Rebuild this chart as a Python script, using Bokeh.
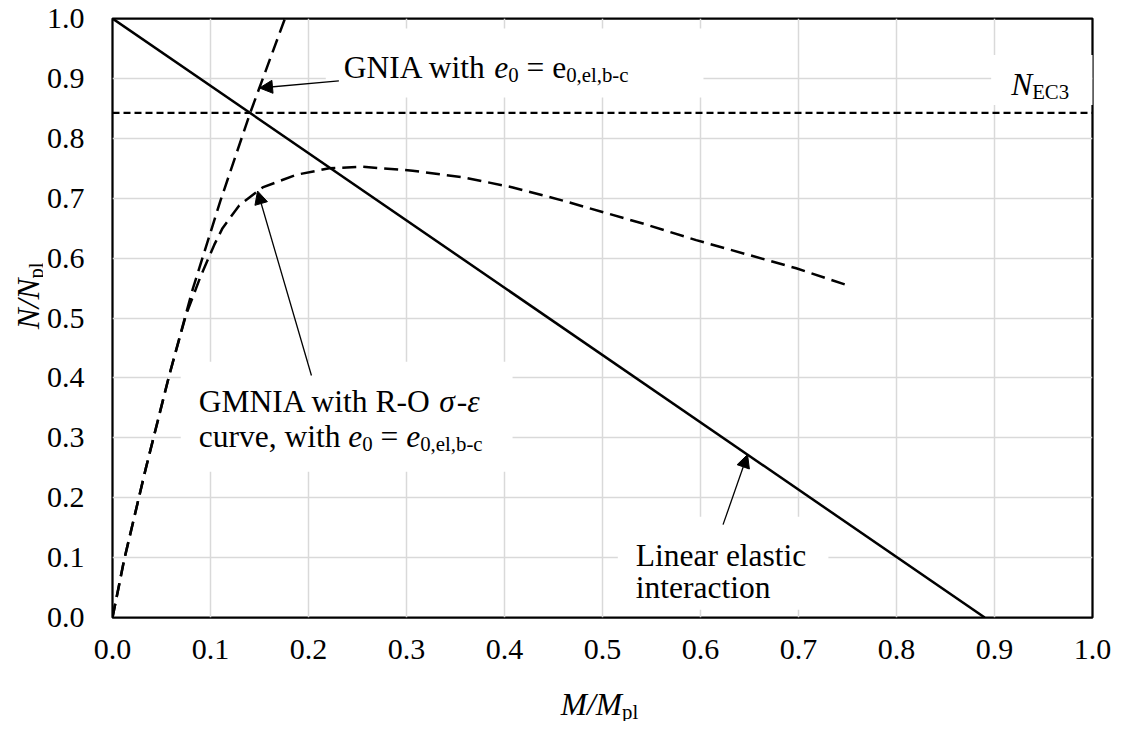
from bokeh.plotting import figure
from bokeh.layouts import row, column
from bokeh.models import (Label, Arrow, NormalHead, FixedTicker, PrintfTickFormatter,
                          BoxAnnotation, Range1d)
from bokeh.embed import file_html
from bokeh.resources import INLINE

# ---------------- data ----------------
x_ticks = [0.0, 0.1, 0.2, 0.3, 0.4, 0.5, 0.6, 0.7, 0.8, 0.9, 1.0]
y_ticks = [0.0, 0.1, 0.2, 0.3, 0.4, 0.5, 0.6, 0.7, 0.8, 0.9, 1.0]
tick_labels = ["0.0", "0.1", "0.2", "0.3", "0.4", "0.5", "0.6", "0.7", "0.8", "0.9", "1.0"]

# linear elastic interaction
lin_m = [0.0, 0.89]
lin_n = [1.0, 0.0]

# N_EC3 level
nec3_m = [0.0, 1.0]
nec3_n = [0.8425, 0.8425]

# GNIA with e0 = e0,el,b-c
gnia_m = [0.0, 0.012, 0.034, 0.058, 0.082, 0.110, 0.1405, 0.176]
gnia_n = [0.0, 0.097, 0.249, 0.405, 0.549, 0.695, 0.8425, 1.0]

# GMNIA with R-O sigma-epsilon curve
gmnia_m = [0.0, 0.012, 0.034, 0.058, 0.075, 0.090, 0.1038, 0.1123, 0.1293, 0.1532,
           0.1872, 0.2212, 0.2553, 0.3063, 0.3574, 0.4085, 0.4595, 0.5446, 0.5956,
           0.6977, 0.7539]
gmnia_n = [0.0, 0.097, 0.249, 0.405, 0.505, 0.570, 0.622, 0.650, 0.688, 0.718,
           0.739, 0.750, 0.7525, 0.746, 0.735, 0.718, 0.696, 0.656, 0.630,
           0.583, 0.5525]

# ---------------- geometry / style ----------------
FONT = "Liberation Serif"
FS_T = 30      # tick labels
FS = 31.5      # annotations and titles
SUB = 0.66
YW = 43        # strip for the y title
LB, RB, TB, BB = 66, 22, 18, 62
FW, FH = 980, 599
XH = 42        # strip for the x title

p = figure(frame_width=FW, frame_height=FH, x_range=Range1d(0, 1), y_range=Range1d(0, 1),
           output_backend="svg", toolbar_location=None,
           min_border_left=LB, min_border_right=RB, min_border_top=TB, min_border_bottom=BB,
           background_fill_color="white", border_fill_color="white")
p.outline_line_color = "black"
p.outline_line_width = 2.25

for ax, ticks in ((p.xaxis[0], x_ticks), (p.yaxis[0], y_ticks)):
    ax.ticker = FixedTicker(ticks=ticks)
    ax.formatter = PrintfTickFormatter(format="%.1f")
    ax.major_label_overrides = {t: s for t, s in zip(ticks, tick_labels)}
    ax.axis_line_color = None
    ax.major_tick_line_color = None
    ax.minor_tick_line_color = None
    ax.major_tick_out = 0
    ax.major_tick_in = 0
    ax.major_label_text_font = FONT
    ax.major_label_text_font_size = f"{FS_T}px"
    ax.major_label_text_color = "black"
p.xaxis.major_label_standoff = 22
p.yaxis.major_label_standoff = 28

p.xgrid.ticker = FixedTicker(ticks=x_ticks)
p.ygrid.ticker = FixedTicker(ticks=y_ticks)
for g in (p.xgrid, p.ygrid):
    g.grid_line_color = "#d9d9d9"
    g.grid_line_width = 1.5

# strips for the axis titles (so the titles are not clipped to the main frame)
yfig = figure(frame_width=YW, frame_height=FH, x_range=Range1d(0, YW), y_range=p.y_range,
              output_backend="svg", toolbar_location=None,
              x_axis_location=None, y_axis_location=None,
              min_border_left=0, min_border_right=0, min_border_top=TB, min_border_bottom=BB,
              background_fill_color="white", border_fill_color="white")
xfig = figure(frame_width=FW, frame_height=XH, x_range=p.x_range, y_range=Range1d(0, XH),
              output_backend="svg", toolbar_location=None,
              x_axis_location=None, y_axis_location=None,
              min_border_left=YW + LB, min_border_right=RB, min_border_top=0, min_border_bottom=0,
              background_fill_color="white", border_fill_color="white")
for f in (yfig, xfig):
    f.outline_line_color = None
    f.xgrid.visible = False
    f.ygrid.visible = False

# ---------------- text helpers ----------------
W = {' ': .25, ',': .25, '-': .333, '.': .25, '/': .278, '=': .564,
     'A': .722, 'C': .667, 'E': .611, 'G': .722, 'I': .333, 'L': .611, 'M': .889,
     'N': .722, 'O': .722, 'R': .667,
     'a': .444, 'b': .5, 'c': .444, 'e': .444, 'h': .5, 'i': .278, 'l': .278,
     'n': .5, 'o': .5, 'p': .5, 'r': .333, 's': .389, 't': .278, 'u': .5, 'v': .5,
     'w': .722}
WI = {'N': .667, 'M': .833, 'e': .444, '/': .278, 'σ': .55, 'ε': .44}


def tw(s, italic):
    tot = 0.0
    for c in s:
        if c.isdigit():
            tot += 0.5
        elif italic and c in WI:
            tot += WI[c]
        else:
            tot += W.get(c, 0.5)
    return tot


def run_width(runs, fs=FS):
    tot = 0.0
    for txt, st in runs:
        size = fs * SUB if 's' in st else fs
        tot += tw(txt, 'i' in st) * size
    return tot


def rich(fig, x, y, runs, x_off=0.0, y_off=0.0, fs=FS, angle=0.0):
    off = 0.0
    for txt, st in runs:
        sub = 's' in st
        it = 'i' in st
        size = fs * SUB if sub else fs
        core = txt.strip(' ')
        lead = len(txt) - len(txt.lstrip(' '))
        trail = len(txt) - len(txt.rstrip(' '))
        off += lead * 0.25 * size
        shift = -0.22 * fs if sub else 0.0
        if angle == 0.0:
            xo, yo = x_off + off, y_off + shift
        else:
            xo, yo = x_off - shift, y_off + off
        fig.add_layout(Label(x=x, y=y, x_offset=xo, y_offset=yo, text=core, angle=angle,
                             text_font=FONT, text_font_size=f"{size:.1f}px",
                             text_font_style="italic" if it else "normal",
                             text_baseline="alphabetic", text_align="left",
                             text_color="black"))
        off += tw(core, it) * size + trail * 0.25 * size


def white_box(x0, y_base, width_px, pad_l, pad_r, pad_t, pad_b):
    p.add_layout(BoxAnnotation(left=x0 - pad_l / FW, right=x0 + (width_px + pad_r) / FW,
                               top=y_base + pad_t / FH, bottom=y_base - pad_b / FH,
                               fill_color="white", fill_alpha=1.0, line_color=None,
                               level="underlay"))


# ---------------- label texts ----------------
gnia_runs = [("GNIA with ", "n"), ("e", "i"), ("0", "s"), (" = e", "n"), ("0,el,b-c", "s")]
gmnia_runs1 = [("GMNIA with R-O ", "n"), ("σ", "i"), ("-", "n"), ("ε", "i")]
gmnia_runs2 = [("curve, with ", "n"), ("e", "i"), ("0", "s"), (" = ", "n"), ("e", "i"),
               ("0,el,b-c", "s")]
lin_runs1 = [("Linear elastic", "n")]
lin_runs2 = [("interaction", "n")]
nec3_runs = [("N", "i"), ("EC3", "s")]
xt_runs = [("M/M", "i"), ("pl", "s")]
yt_runs = [("N/N", "i"), ("pl", "s")]

# anchors (data units of the main plot)
gx, gy = 0.236, 0.918
mx, my1, my2 = 0.088, 0.360, 0.302
lx, ly1, ly2 = 0.534, 0.103, 0.050
nx, ny = 0.917, 0.889

# white boxes behind the labels (they hide the grid only)
white_box(gx, gy, run_width(gnia_runs), 18, 75, 39, 30)
white_box(mx, my1, max(run_width(gmnia_runs1), run_width(gmnia_runs2)), 18, 30, 40, 70)
white_box(lx, ly1, run_width(lin_runs1), 18, 22, 39, 54)
white_box(nx, ny, run_width(nec3_runs), 20, 40, 30, 20)

# ---------------- curves ----------------
p.line(nec3_m, nec3_n, line_color="black", line_width=2.25, line_dash="7 4")
p.line(lin_m, lin_n, line_color="black", line_width=2.5)
p.line(gnia_m, gnia_n, line_color="black", line_width=2.5, line_dash="14 7")
p.line(gmnia_m, gmnia_n, line_color="black", line_width=2.5, line_dash="14 7")

# ---------------- labels ----------------
rich(p, gx, gy, gnia_runs)
rich(p, mx, my1, gmnia_runs1)
rich(p, mx, my2, gmnia_runs2)
rich(p, lx, ly1, lin_runs1)
rich(p, lx, ly2, lin_runs2)
rich(p, nx, ny, nec3_runs)

# axis titles in their strips
rich(xfig, 0.5, 17, xt_runs, x_off=-run_width(xt_runs) / 2)
rich(yfig, 28, 0.537, yt_runs, y_off=-run_width(yt_runs) / 2, angle=1.5707963267948966)

# ---------------- arrows ----------------
def arrow(x0, y0, x1, y1):
    p.add_layout(Arrow(x_start=x0, y_start=y0, x_end=x1, y_end=y1, line_color="black",
                       line_width=1.3,
                       end=NormalHead(size=13, fill_color="black", line_color="black",
                                      line_width=1)))

arrow(0.231, 0.896, 0.150, 0.884)
arrow(0.203, 0.404, 0.148, 0.712)
arrow(0.623, 0.155, 0.648, 0.272)

layout = column(row(yfig, p), xfig)
open("out.html", "w").write(file_html(layout, INLINE))
